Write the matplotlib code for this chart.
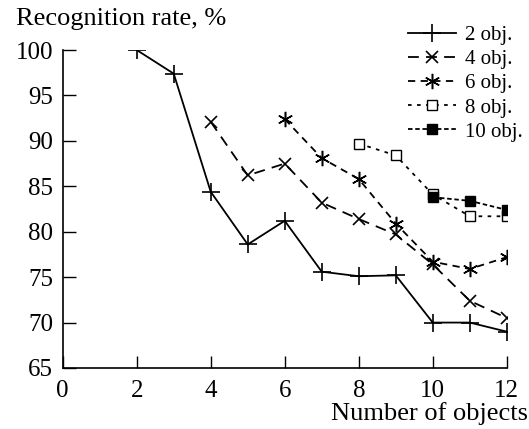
#!/usr/bin/env python3
"""Recognition rate vs number of objects, one curve per training set size."""

import matplotlib
matplotlib.use("Agg")
import matplotlib.pyplot as plt

plt.rcParams["font.family"] = "serif"
plt.rcParams["font.serif"] = ["Liberation Serif", "DejaVu Serif"]

# values
x_2 = [2, 3, 4, 5, 6, 7, 8, 9, 10, 11, 12]
y_2 = [100.0, 97.4, 84.4, 78.6, 81.2, 75.6, 75.1, 75.2, 70.0, 70.0, 69.0]

x_4 = [4, 5, 6, 7, 8, 9, 10, 11, 12]
y_4 = [92.1, 86.2, 87.5, 83.2, 81.4, 79.7, 76.4, 72.4, 70.5]

x_6 = [6, 7, 8, 9, 10, 11, 12]
y_6 = [92.4, 88.1, 85.8, 80.9, 76.7, 75.9, 77.2]

x_8 = [8, 9, 10, 11, 12]
y_8 = [89.7, 88.4, 84.1, 81.7, 81.7]

x_10 = [10, 11, 12]
y_10 = [83.8, 83.4, 82.4]

labels = ["2 obj.", "4 obj.", "6 obj.", "8 obj.", "10 obj."]
x_ticks = [0, 2, 4, 6, 8, 10, 12]
y_ticks = [65, 70, 75, 80, 85, 90, 95, 100]

fig = plt.figure(figsize=(5.29, 4.29), dpi=100)
ax = fig.add_axes([0.1185, 0.1422, 0.8395, 0.7412])

lw = 1.3
ax.plot(x_2, y_2, color="black", lw=lw, ls="-", marker="+", ms=13, mew=1.2,
        label=labels[0])
ax.plot(x_4, y_4, color="black", lw=lw, ls=(0, (6, 4)), marker="x", ms=8, mew=1.2,
        label=labels[1])
ax.plot(x_6, y_6, color="black", lw=lw, ls=(0, (4, 3)), marker=(6, 2, 0), ms=11,
        mew=1.1, label=labels[2])
ax.plot(x_8, y_8, color="black", lw=lw, ls=(0, (2, 3)), marker="s", ms=7, mew=1.0,
        mfc="white", label=labels[3])
ax.plot(x_10, y_10, color="black", lw=lw, ls=(0, (2.5, 1.5)), marker="s", ms=7,
        mew=1.0, mfc="black", label=labels[4])

ax.set_xlim(0, 12)
ax.set_ylim(65, 100)
ax.set_xticks(x_ticks)
ax.set_yticks(y_ticks)
ax.tick_params(direction="in", length=9, width=1, labelsize=18)
ax.tick_params(axis="x", pad=9)
ax.tick_params(axis="y", pad=7)
for side in ("top", "right"):
    ax.spines[side].set_visible(False)
for side in ("left", "bottom"):
    ax.spines[side].set_linewidth(1.2)

fig.text(0.03, 0.955, "Recognition rate, %", fontsize=19, ha="left", va="center")
fig.text(0.998, 0.035, "Number of objects", fontsize=19, ha="right", va="center")

leg = fig.legend(loc="upper right", bbox_to_anchor=(1.003, 0.96), frameon=False,
                 fontsize=15, handlelength=2.3, handletextpad=0.4,
                 labelspacing=0.22, borderaxespad=0)

fig.savefig("out.png", dpi=100)
plt.close(fig)
